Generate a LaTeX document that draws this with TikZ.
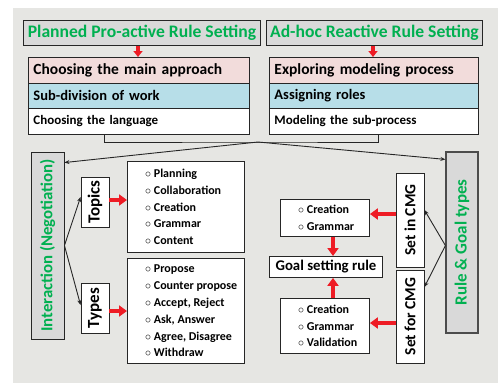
\documentclass[tikz,border=0pt]{standalone}
\usepackage{fontspec}
\setmainfont{Carlito}
\usetikzlibrary{arrows.meta}
\definecolor{bgc}{HTML}{E6E6E3}
\definecolor{greyc}{HTML}{D9D9D9}
\definecolor{pinkc}{HTML}{F2DCDB}
\definecolor{bluec}{HTML}{B7DEE8}
\definecolor{greenc}{HTML}{00B050}
\definecolor{redc}{HTML}{EE1C25}
\definecolor{linec}{HTML}{262626}
\newcommand\bul{$\circ$\ }
\begin{document}
\begin{tikzpicture}[x=1pt,y=-1pt,
  bx/.style={draw=linec, line width=0.9pt, inner sep=0pt, anchor=north west, fill=white},
  hdr/.style={bx, fill=greyc, text=greenc, font=\bfseries\fontsize{17.6}{18}\selectfont},
  row/.style={bx, inner xsep=5pt, align=left},
  vbox/.style={draw=linec, line width=0.9pt, inner sep=0pt, rotate=90, fill=white, font=\bfseries\fontsize{16.5}{17}\selectfont},
  gbox/.style={vbox, fill=greyc, text=greenc},
  ltext/.style={inner sep=0pt, anchor=west, align=left, font=\bfseries\fontsize{12}{16.8}\selectfont},
  redarr/.style={draw=redc, line width=4.5pt, -{Triangle[width=11pt,length=8pt]}},
  redsm/.style={draw=redc, line width=3.5pt, -{Triangle[width=9pt,length=6pt]}},
  thin/.style={draw=linec, line width=0.9pt, -{Stealth[length=5pt,width=4pt]}},
  conn/.style={draw=linec, line width=1pt}
]
\useasboundingbox (0,0) rectangle (498,383);
\fill[bgc] (13,8) rectangle (498,383);

% headers
\node[hdr, minimum width=237pt, minimum height=25pt] (plan) at (23,20) {Planned Pro-active Rule Setting};
\node[hdr, minimum width=216pt, minimum height=25pt] (adhoc) at (266,20) {Ad-hoc Reactive Rule Setting};

% left stack
\node[row, fill=pinkc, text width=211pt, minimum height=26pt, font=\bfseries\fontsize{15.5}{16}\selectfont] (l1) at (28,57) {Choosing the main approach};
\node[row, fill=bluec, text width=211pt, minimum height=25pt, font=\bfseries\fontsize{14.5}{15}\selectfont] (l2) at (28,83) {Sub-division of work};
\node[row, text width=211pt, minimum height=26pt, font=\bfseries\fontsize{13}{14}\selectfont] (l3) at (28,108) {Choosing the language};

% right stack
\node[row, fill=pinkc, text width=199pt, minimum height=26pt, font=\bfseries\fontsize{15.5}{16}\selectfont] (r1) at (269,57) {Exploring modeling process};
\node[row, fill=bluec, text width=199pt, minimum height=25pt, font=\bfseries\fontsize{14.5}{15}\selectfont] (r2) at (269,83) {Assigning roles};
\node[row, text width=199pt, minimum height=26pt, font=\bfseries\fontsize{13}{14}\selectfont] (r3) at (269,108) {Modeling the sub-process};

\draw[redsm] (plan.south -| 138,0) -- (l1.north -| 138,0);
\draw[redsm] (adhoc.south -| 373,0) -- (r1.north -| 373,0);

% bracket and junction
\coordinate (jl) at (104,134);
\coordinate (jr) at (378,134);
\coordinate (jc) at (258,142);
\draw[conn] (jl) |- (jc) -| (jr);

% vertical boxes (rotated: north=page left, south=page right, east=page top)
\node[gbox, minimum width=187pt, minimum height=33pt, font=\bfseries\fontsize{16.8}{17}\selectfont] (inter) at (47.5,245.5) {Interaction (Negotiation)};
\node[gbox, minimum width=181pt, minimum height=32pt, draw=black!70, line width=1.2pt, font=\bfseries\fontsize{17}{17}\selectfont] (rule) at (462,242.5) {Rule \& Goal types};
\node[vbox, minimum width=50pt, minimum height=28pt, font=\bfseries\fontsize{17}{17}\selectfont] (topics) at (95,202) {Topics};
\node[vbox, minimum width=50pt, minimum height=28pt, font=\bfseries\fontsize{17}{17}\selectfont] (types) at (95,308) {Types};
\node[vbox, minimum width=94pt, minimum height=28pt, font=\bfseries\fontsize{15.5}{16}\selectfont] (setin) at (410,220) {Set in CMG};
\node[vbox, minimum width=93pt, minimum height=28pt, font=\bfseries\fontsize{15.5}{16}\selectfont] (setfor) at (410,316.5) {Set for CMG};

\draw[thin] (jc) -- ([yshift=-11pt]inter.south east);
\draw[thin] (jc) -- ([yshift=-8pt]rule.north east);

% list boxes
\node[bx, minimum width=117pt, minimum height=91pt] (tl) at (127,161) {};
\node[ltext] (tlt) at ([xshift=18pt]tl.west) {\bul Planning\\\bul Collaboration\\\bul Creation\\\bul Grammar\\\bul Content};
\node[bx, minimum width=117pt, minimum height=105pt] (yl) at (127,258) {};
\node[ltext] (ylt) at ([xshift=18pt]yl.west) {\bul Propose\\\bul Counter propose\\\bul Accept, Reject\\\bul Ask, Answer\\\bul Agree, Disagree\\\bul Withdraw};

\node[bx, minimum width=89pt, minimum height=37pt] (c1) at (280,199) {};
\node[ltext] (c1t) at ([xshift=18pt]c1.west) {\bul Creation\\\bul Grammar};
\node[bx, minimum width=113pt, minimum height=21pt, font=\bfseries\fontsize{14.8}{15}\selectfont] (goal) at (269,256) {Goal setting rule};
\node[bx, minimum width=89pt, minimum height=55pt] (c2) at (280,298) {};
\node[ltext] (c2t) at ([xshift=18pt]c2.west) {\bul Creation\\\bul Grammar\\\bul Validation};

% interaction arrows
\draw[thin] (inter.south) -- ([yshift=5pt]topics.north);
\draw[thin] (inter.south) -- ([yshift=3pt]types.north);
\draw[thin] ([yshift=-3pt]rule.north) -- ([yshift=10pt]setin.south);
\draw[thin] ([yshift=-3pt]rule.north) -- ([yshift=29.5pt]setfor.south);

% red arrows
\draw[redarr] ([yshift=2pt]topics.south) -- ([yshift=2pt]topics.south -| tl.west);
\draw[redarr] ([yshift=-3pt]types.south) -- ([yshift=-3pt]types.south -| yl.west);
\draw[redarr] ([yshift=6pt]setin.north) -- ([yshift=6pt]setin.north -| c1.east);
\draw[redarr] ([yshift=-6.5pt]setfor.north) -- ([yshift=-6.5pt]setfor.north -| c2.east);
\draw[redarr] (c1.south -| 333,0) -- (goal.north -| 333,0);
\draw[redarr] (c2.north -| 333,0) -- (goal.south -| 333,0);
\end{tikzpicture}
\end{document}
